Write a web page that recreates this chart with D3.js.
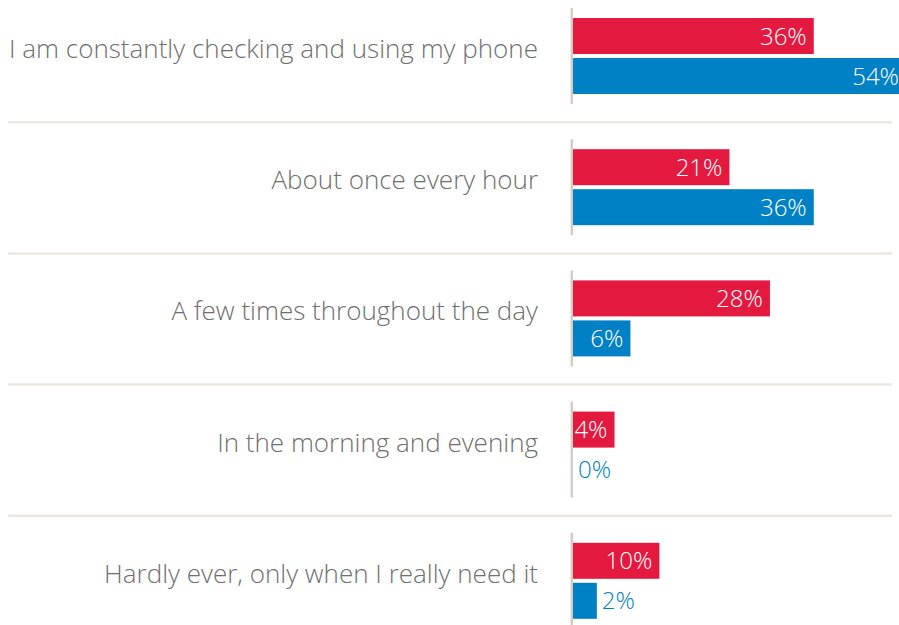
<!DOCTYPE html>
<html>
<head>
<meta charset="utf-8">
<script src="https://cdn.jsdelivr.net/npm/d3@7"></script>
<style>
  html, body { margin: 0; padding: 0; background: #fff; }
  svg { display: block; }
</style>
</head>
<body>
<svg width="899" height="625"></svg>
<script>
const categories = [
  "I am constantly checking and using my phone",
  "About once every hour",
  "A few times throughout the day",
  "In the morning and evening",
  "Hardly ever, only when I really need it"
];
const series = ["red", "blue"];
const redValues = [36, 21, 28, 4, 10];
const blueValues = [54, 36, 6, 0, 2];
const colors = ["#e3193f", "#0081c6"];

const width = 899;
const height = 625;
const axisX = 573;

const rows = categories.map((c, i) => ({ name: c, values: [redValues[i], blueValues[i]] }));

const svg = d3.select("svg");

const y = d3.scaleBand()
  .domain(categories)
  .range([8, 8 + 131.2 * categories.length])
  .paddingInner(0);

const ySeries = d3.scaleBand()
  .domain(series)
  .range([10, 86])
  .paddingInner(0.1);

// bars are not proportional in the original, a power scale gets close
const x = d3.scalePow()
  .exponent(0.8)
  .domain([0, 54])
  .range([0, 333]);

const group = svg.append("g")
  .selectAll("g")
  .data(rows)
  .enter()
  .append("g")
  .attr("transform", d => `translate(0,${y(d.name)})`);

// separators between rows
group.filter((d, i) => i > 0)
  .append("line")
  .attr("x1", 8)
  .attr("x2", 892)
  .attr("y1", -17)
  .attr("y2", -17)
  .attr("stroke", "#ece7e2")
  .attr("stroke-width", 2.5);

group.append("text")
  .text(d => d.name)
  .attr("x", 538)
  .attr("y", 50)
  .style("text-anchor", "end")
  .style("fill", "#6f6f6f")
  .style("font-family", "'Open Sans', sans-serif")
  .style("font-weight", "300")
  .style("font-size", "26px");

const bar = group.selectAll("g.bar")
  .data(d => d.values.map((v, j) => ({ key: series[j], value: v, color: colors[j] })))
  .enter()
  .append("g")
  .attr("class", "bar")
  .attr("transform", d => `translate(${axisX},${ySeries(d.key)})`);

bar.append("rect")
  .attr("x", 0)
  .attr("y", 0)
  .attr("width", d => x(d.value))
  .attr("height", ySeries.bandwidth())
  .attr("fill", d => d.color);

const labels = bar.append("text")
  .text(d => d.value + "%")
  .attr("y", ySeries.bandwidth() / 2)
  .attr("dy", "0.36em")
  .style("font-family", "'Open Sans', sans-serif")
  .style("font-weight", "300")
  .style("font-size", "24px");

labels.each(function(d) {
  const tw = this.getComputedTextLength();
  const w = x(d.value);
  const t = d3.select(this);
  if (w > tw + 6) {
    t.attr("x", w - 7).style("text-anchor", "end").style("fill", "#fff");
  } else {
    t.attr("x", w + 5).style("text-anchor", "start").style("fill", d.color);
  }
});

// vertical axis per row
group.append("line")
  .attr("x1", axisX - 1.2)
  .attr("x2", axisX - 1.2)
  .attr("y1", 0)
  .attr("y2", 96)
  .attr("stroke", "#d3ccc2")
  .attr("stroke-width", 2.4);
</script>
</body>
</html>
